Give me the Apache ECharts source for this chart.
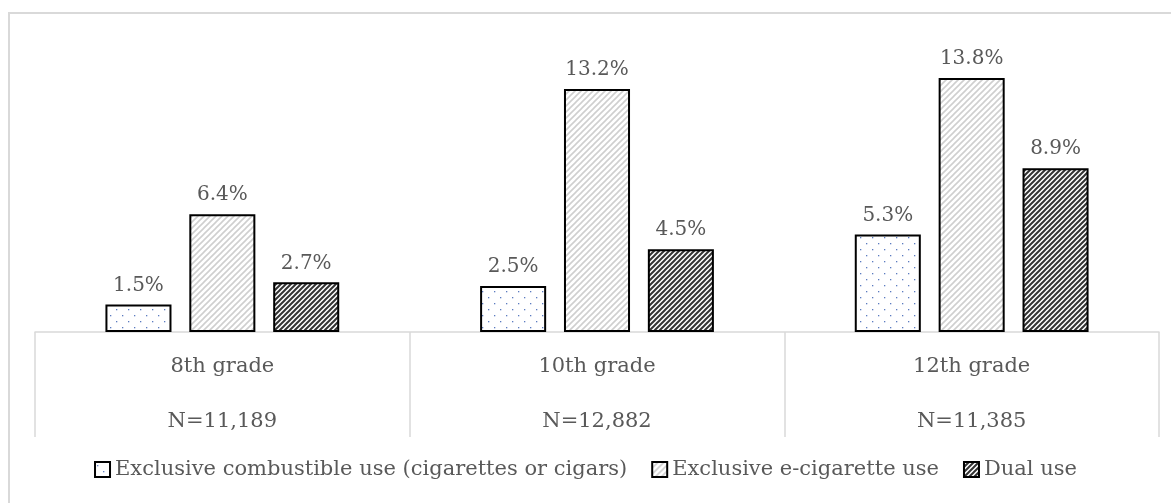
<!DOCTYPE html>
<html>
<head>
<meta charset="utf-8">
<script src="https://cdn.jsdelivr.net/npm/echarts@6/dist/echarts.min.js"></script>
<style>
  html, body { margin: 0; padding: 0; background: #fff; }
  #chart { width: 1171px; height: 503px; }
</style>
</head>
<body>
<div id="chart"></div>
<script>
const grades = ['8th grade', '10th grade', '12th grade']
const sampleSizes = ['N=11,189', 'N=12,882', 'N=11,385']
const seriesNames = [
  'Exclusive combustible use (cigarettes or cigars)',
  'Exclusive e-cigarette use',
  'Dual use'
]
const combustible = [1.5, 2.5, 5.3]
const ecig = [6.4, 13.2, 13.8]
const dual = [2.7, 4.5, 8.9]

const textColor = '#595959'
const fontFamily = '"DejaVu Serif", "Liberation Serif", serif'

// pattern fills
function dotPattern () {
  const c = document.createElement('canvas')
  c.width = 12; c.height = 12
  const g = c.getContext('2d')
  g.fillStyle = '#fff'; g.fillRect(0, 0, 12, 12)
  g.fillStyle = '#5b7bc0'
  g.fillRect(2, 3, 1.3, 1.3)
  g.fillRect(8, 9, 1.3, 1.3)
  return c
}

function stripePattern (color, width, s) {
  const c = document.createElement('canvas')
  c.width = s; c.height = s
  const g = c.getContext('2d')
  g.fillStyle = '#fff'; g.fillRect(0, 0, s, s)
  g.strokeStyle = color
  g.lineWidth = width
  g.beginPath()
  g.moveTo(-1, s + 1); g.lineTo(s + 1, -1)
  g.moveTo(-1, 1); g.lineTo(1, -1)
  g.moveTo(s - 1, s + 1); g.lineTo(s + 1, s - 1)
  g.stroke()
  return c
}

const fills = [
  { image: dotPattern(), repeat: 'repeat' },
  { image: stripePattern('#cfcfcf', 1.6, 6), repeat: 'repeat' },
  { image: stripePattern('#333', 2, 5), repeat: 'repeat' }
]

const values = [combustible, ecig, dual]

const chart = echarts.init(document.getElementById('chart'), null, { renderer: 'canvas' })

chart.setOption({
  backgroundColor: '#fff',
  animation: false,
  textStyle: { fontFamily: fontFamily },
  graphic: [{
    type: 'rect',
    shape: { x: 9, y: 13, width: 1200, height: 600 },
    style: { fill: 'none', stroke: '#d9d9d9', lineWidth: 2 },
    silent: true
  }],
  legend: {
    bottom: 18,
    left: 'center',
    icon: 'rect',
    itemWidth: 15,
    itemHeight: 15,
    itemGap: 24,
    textStyle: { color: textColor, fontSize: 21, fontFamily: fontFamily },
    data: seriesNames
  },
  grid: { left: 35, right: 12, top: 56, bottom: 171 },
  xAxis: {
    type: 'category',
    data: grades,
    axisLine: { lineStyle: { color: '#d9d9d9', width: 1.5 } },
    axisTick: { show: true, length: 105, lineStyle: { color: '#d9d9d9', width: 1.5 } },
    axisLabel: {
      color: textColor,
      fontSize: 21,
      fontFamily: fontFamily,
      lineHeight: 55,
      margin: 7,
      formatter: (v, i) => v + '\n' + sampleSizes[i]
    }
  },
  yAxis: {
    type: 'value',
    min: 0,
    max: 15,
    show: false,
    splitLine: { show: false }
  },
  series: seriesNames.map((name, i) => ({
    name: name,
    type: 'bar',
    data: values[i],
    barGap: '27%',
    barCategoryGap: '37.6%',
    itemStyle: { color: fills[i], borderColor: '#000', borderWidth: 2 },
    label: {
      show: true,
      position: 'top',
      distance: 9,
      color: textColor,
      fontSize: 20,
      fontFamily: fontFamily,
      formatter: p => p.value.toFixed(1) + '%'
    }
  }))
})
</script>
</body>
</html>
